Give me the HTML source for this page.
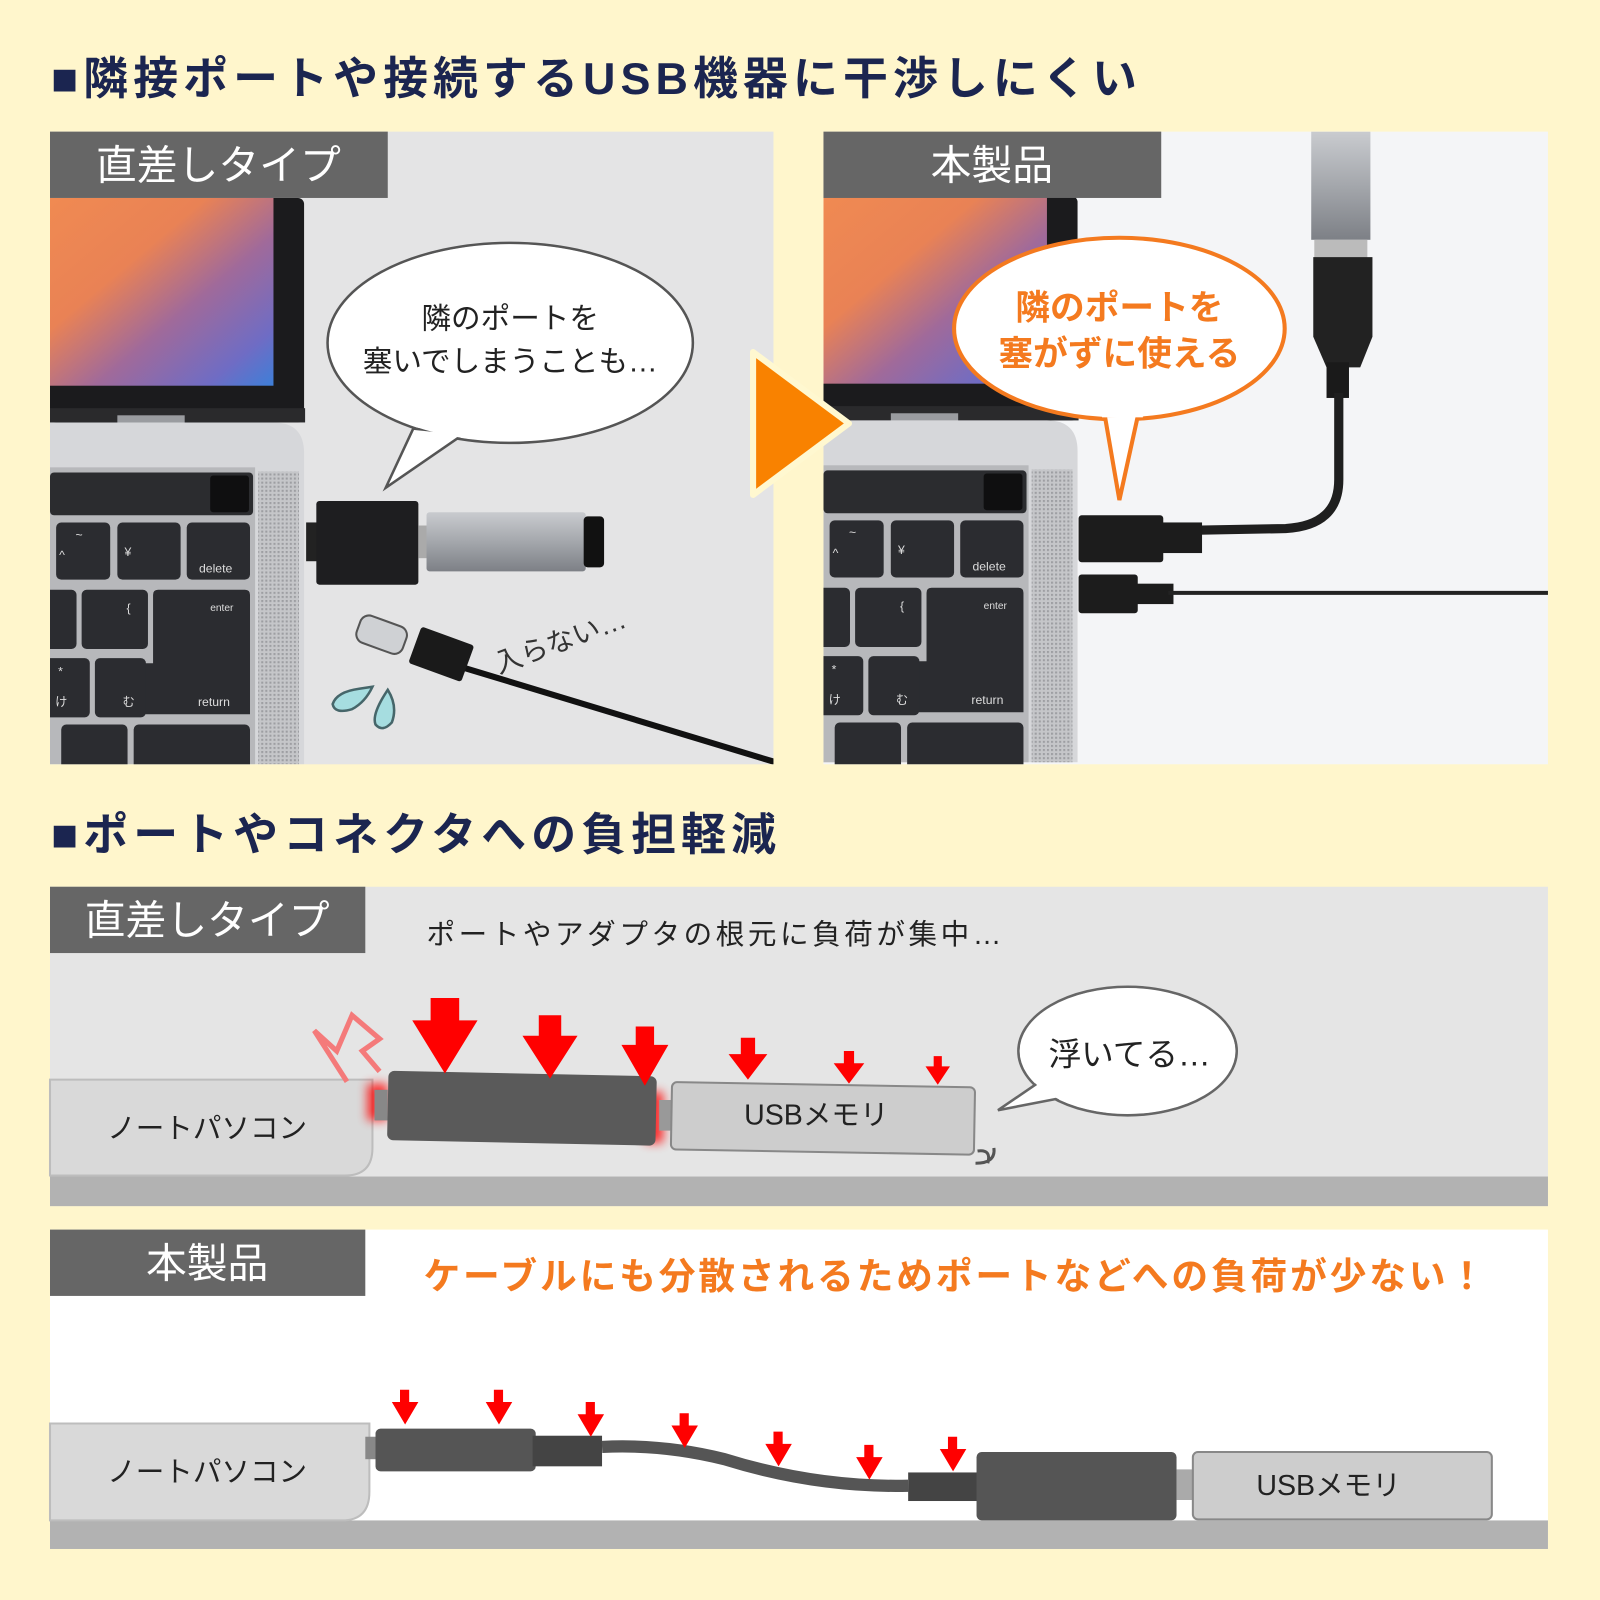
<!DOCTYPE html>
<html><head><meta charset="utf-8"><style>
html,body{margin:0;padding:0;background:#fff6cc;}
svg{display:block;}
text{font-family:"Liberation Sans","Noto Sans CJK JP",sans-serif;}
</style></head><body>
<svg width="1600" height="1600" viewBox="0 0 1568 1568" xmlns="http://www.w3.org/2000/svg">
<defs>
<linearGradient id="scr" x1="0" y1="0" x2="1" y2="1">
<stop offset="0" stop-color="#f08a52"/><stop offset="0.35" stop-color="#e98255"/><stop offset="0.6" stop-color="#a06a9a"/><stop offset="0.85" stop-color="#6f6cc4"/><stop offset="1" stop-color="#3e7fd8"/>
</linearGradient>
<pattern id="dots" width="4" height="4" patternUnits="userSpaceOnUse"><rect width="4" height="4" fill="#c5c6c9"/><rect width="2" height="2" fill="#9d9ea2"/></pattern>
<clipPath id="cl"><rect x="49" y="129" width="709" height="620"/></clipPath>
<clipPath id="cr"><rect x="807" y="129" width="710" height="620"/></clipPath>
<linearGradient id="stick" x1="0" y1="0" x2="0" y2="1"><stop offset="0" stop-color="#c9cbcf"/><stop offset="0.5" stop-color="#a4a7ac"/><stop offset="1" stop-color="#7d8086"/></linearGradient>
<filter id="glow" x="-1" y="-1" width="3" height="3"><feGaussianBlur stdDeviation="5"/></filter>
<g id="laptop">
<rect x="49" y="194" width="249" height="220" rx="6" fill="#1b1b1d"/>
<rect x="49" y="194" width="219" height="184" fill="url(#scr)"/>
<rect x="49" y="400" width="250" height="14" fill="#2a2a2c"/>
<rect x="115" y="407" width="66" height="15" fill="#9a9ca0"/>
<path d="M49 414 H268 Q298 414 298 444 V749 H49 Z" fill="#d6d7da"/>
<rect x="49" y="458" width="201" height="291" fill="#b7b8bb"/>
<rect x="253" y="462" width="40" height="287" fill="url(#dots)"/>
<rect x="49" y="463" width="199" height="42" rx="4" fill="#2b2c2f"/>
<rect x="206" y="466" width="38" height="36" rx="3" fill="#0f0f10"/>
<g fill="#2b2c30">
<rect x="55" y="512" width="53" height="56" rx="5"/><rect x="115" y="512" width="62" height="56" rx="5"/><rect x="183" y="512" width="62" height="56" rx="5"/>
<rect x="40" y="578" width="35" height="58" rx="5"/><rect x="80" y="578" width="65" height="58" rx="5"/>
<path d="M155 578 H240 Q245 578 245 583 V700 H128 V650 H150 V583 Q150 578 155 578Z"/>
<rect x="40" y="645" width="48" height="58" rx="5"/><rect x="93" y="645" width="50" height="58" rx="5"/>
<rect x="60" y="710" width="65" height="50" rx="5"/><rect x="131" y="710" width="114" height="50" rx="5"/>
</g>
<g fill="#ddd" font-size="12"><text x="195" y="561">delete</text><text x="206" y="599" font-size="10">enter</text><text x="194" y="692">return</text><text x="122" y="545">¥</text><text x="74" y="528">~</text><text x="58" y="548">^</text><text x="124" y="600">{</text><text x="57" y="662">*</text><text x="54" y="692">け</text><text x="120" y="692">む</text></g>
</g>
</defs>

<!-- titles -->
<text x="50" y="92" font-size="44" font-weight="bold" fill="#1b2550" letter-spacing="5">■隣接ポートや接続するUSB機器に干渉しにくい</text>
<text x="50" y="833" font-size="44" font-weight="bold" fill="#1b2550" letter-spacing="5">■ポートやコネクタへの負担軽減</text>

<!-- left photo -->
<rect x="49" y="129" width="709" height="620" fill="#e4e4e5"/>
<g clip-path="url(#cl)">
<use href="#laptop"/>
<rect x="300" y="512" width="12" height="38" fill="#222"/>
<rect x="310" y="491" width="100" height="82" rx="3" fill="#1e1e20"/>
<rect x="410" y="515" width="12" height="32" fill="#aaa"/>
<rect x="418" y="502" width="156" height="58" rx="3" fill="url(#stick)"/>
<rect x="572" y="506" width="20" height="50" rx="4" fill="#111"/>
<line x1="440" y1="650" x2="760" y2="747" stroke="#111" stroke-width="6"/>
<rect x="405" y="622" width="55" height="38" rx="3" fill="#1a1a1a" transform="rotate(20 432 641)"/>
<rect x="350" y="608" width="48" height="28" rx="9" fill="#cfd1d4" stroke="#555" stroke-width="2" transform="rotate(20 374 622)"/>
<path d="M352 675 Q330 678 326 690 Q328 700 345 695 Q358 688 365 673 Z" fill="#a6dde0" stroke="#46666a" stroke-width="2.5"/>
<path d="M380 676 Q364 700 368 710 Q375 718 384 708 Q390 692 380 676 Z" fill="#a6dde0" stroke="#46666a" stroke-width="2.5"/>
<text x="475" y="638" font-size="27" fill="#333" transform="rotate(-20 545 610)">入らない…</text>
<ellipse cx="500" cy="336" rx="179" ry="98" fill="#fff" stroke="#555" stroke-width="2.5"/>
<polygon points="405,420 378,478 455,425" fill="#fff" stroke="#555" stroke-width="2.5" stroke-linejoin="miter"/>
<ellipse cx="500" cy="336" rx="177.5" ry="96.5" fill="#fff"/>
<text x="500" y="322" font-size="29" fill="#222" text-anchor="middle">隣のポートを</text>
<text x="500" y="364" font-size="29" fill="#222" text-anchor="middle">塞いでしまうことも…</text>
</g>
<rect x="49" y="129" width="331" height="65" fill="#666"/>
<text x="214" y="176" font-size="40" fill="#fff" text-anchor="middle">直差しタイプ</text>

<!-- right photo -->
<rect x="807" y="129" width="710" height="620" fill="#f4f5f7"/>
<g clip-path="url(#cr)">
<use href="#laptop" transform="translate(758 -2)"/>
<rect x="1285" y="129" width="58" height="106" fill="url(#stick)"/>
<rect x="1288" y="235" width="52" height="18" fill="#bbb"/>
<path d="M1287 252 H1345 V330 L1333 360 H1300 L1287 330 Z" fill="#222"/>
<rect x="1300" y="355" width="22" height="35" fill="#1a1a1a"/>
<path d="M1312 385 V470 Q1312 515 1260 518 L1150 520" stroke="#1f1f1f" stroke-width="9" fill="none"/>
<rect x="1057" y="505" width="83" height="46" rx="3" fill="#1c1c1c"/>
<rect x="1138" y="512" width="40" height="30" fill="#1c1c1c"/>
<rect x="1057" y="563" width="58" height="38" rx="3" fill="#1c1c1c"/>
<rect x="1110" y="572" width="40" height="20" fill="#1c1c1c"/>
<line x1="1145" y1="581" x2="1520" y2="581" stroke="#222" stroke-width="4"/>
<ellipse cx="1097" cy="322" rx="162" ry="89" fill="#fff" stroke="#f47a1f" stroke-width="4"/>
<path d="M1083 409 L1097 490 L1115 408" fill="#fff" stroke="#f47a1f" stroke-width="4"/>
<rect x="1080" y="395" width="40" height="14" fill="#fff"/>
<text x="1097" y="313" font-size="34" font-weight="bold" fill="#f47a1f" text-anchor="middle">隣のポートを</text>
<text x="1097" y="358" font-size="34" font-weight="bold" fill="#f47a1f" text-anchor="middle">塞がずに使える</text>
</g>
<rect x="807" y="129" width="331" height="65" fill="#666"/>
<text x="972" y="176" font-size="40" fill="#fff" text-anchor="middle">本製品</text>

<!-- orange arrow -->
<path d="M738 345 L832 415 L738 485 Z" fill="#f98200" stroke="#fff8d0" stroke-width="6" stroke-linejoin="round"/>

<!-- panel 3 -->
<rect x="49" y="869" width="1468" height="313" fill="#e5e5e5"/>
<rect x="49" y="1153" width="1468" height="29" fill="#b2b2b2"/>
<rect x="49" y="869" width="309" height="65" fill="#666"/>
<text x="203" y="916" font-size="40" fill="#fff" text-anchor="middle">直差しタイプ</text>
<text x="418" y="925" font-size="28" fill="#222" letter-spacing="3.5">ポートやアダプタの根元に負荷が集中…</text>
<path d="M49 1058 H365 V1125 Q365 1152 338 1152 H49 Z" fill="#d9d9d9" stroke="#bdbdbd" stroke-width="2"/>
<text x="203" y="1115" font-size="28" fill="#222" text-anchor="middle">ノートパソコン</text>
<path d="M340 1060 L308 1010 L330 1030 L345 995 L372 1018 L355 1030 L372 1050" fill="none" stroke="#f47a7a" stroke-width="5"/>
<rect x="360" y="1062" width="20" height="36" fill="#f00" filter="url(#glow)" opacity="0.8"/>
<rect x="632" y="1070" width="18" height="50" fill="#f00" filter="url(#glow)" opacity="0.8"/>
<rect x="367" y="1068" width="13" height="30" fill="#888"/>
<rect x="380" y="1052" width="263" height="68" rx="6" fill="#5a5a5a" transform="rotate(1.2 510 1086)"/>
<rect x="646" y="1078" width="12" height="30" fill="#999"/>
<rect x="658" y="1063" width="297" height="66" rx="5" fill="#cdcdcd" stroke="#888" stroke-width="2" transform="rotate(1 806 1096)"/>
<text x="800" y="1102" font-size="28" fill="#222" text-anchor="middle">USBメモリ</text>
<path d="M958 1128 Q972 1126 968 1140 M956 1140 Q976 1140 974 1125" stroke="#555" stroke-width="3" fill="none"/>
<g fill="#ff0000">
<path d="M422 978 h28 v22 h18 l-32 52 l-32 -52 h18z"/>
<path d="M528 995 h22 v20 h16 l-27 42 l-27 -42 h16z"/>
<path d="M623 1006 h18 v18 h14 l-23 40 l-23 -40 h14z"/>
<path d="M726 1017 h14 v16 h12 l-19 25 l-19 -25 h12z"/>
<path d="M827 1030 h10 v12 h10 l-15 20 l-15 -20 h10z"/>
<path d="M915 1035 h8 v10 h8 l-12 18 l-12 -18 h8z"/>
</g>
<ellipse cx="1105" cy="1030" rx="107" ry="63" fill="#fff" stroke="#666" stroke-width="2.5"/>
<polygon points="1022,1058 978,1088 1040,1076" fill="#fff" stroke="#666" stroke-width="2.5"/>
<ellipse cx="1105" cy="1030" rx="105.5" ry="61.5" fill="#fff"/>
<text x="1107" y="1044" font-size="32" fill="#222" text-anchor="middle">浮いてる…</text>

<!-- panel 4 -->
<rect x="49" y="1205" width="1468" height="313" fill="#fff"/>
<rect x="49" y="1490" width="1468" height="28" fill="#b2b2b2"/>
<rect x="49" y="1205" width="309" height="65" fill="#666"/>
<text x="203" y="1252" font-size="40" fill="#fff" text-anchor="middle">本製品</text>
<text x="415" y="1263" font-size="36" font-weight="bold" fill="#f47a1f" letter-spacing="2.8">ケーブルにも分散されるためポートなどへの負荷が少ない！</text>
<path d="M49 1395 H362 V1462 Q362 1490 335 1490 H49 Z" fill="#d9d9d9" stroke="#bdbdbd" stroke-width="2"/>
<text x="203" y="1452" font-size="28" fill="#222" text-anchor="middle">ノートパソコン</text>
<rect x="358" y="1408" width="12" height="22" fill="#888"/>
<rect x="368" y="1400" width="157" height="42" rx="5" fill="#555"/>
<rect x="522" y="1407" width="68" height="30" fill="#444"/>
<path d="M590 1418 Q650 1415 710 1430 Q800 1458 890 1456" stroke="#555" stroke-width="12" fill="none"/>
<rect x="890" y="1443" width="70" height="28" fill="#444"/>
<rect x="957" y="1423" width="196" height="67" rx="5" fill="#555"/>
<rect x="1153" y="1440" width="16" height="30" fill="#aaa"/>
<rect x="1169" y="1423" width="293" height="66" rx="5" fill="#cdcdcd" stroke="#888" stroke-width="2"/>
<text x="1302" y="1465" font-size="28" fill="#222" text-anchor="middle">USBメモリ</text>
<g fill="#ff0000">
<path d="M392 1362 h9 v12 h9 l-13 22 l-13 -22 h8z"/>
<path d="M484 1362 h9 v12 h9 l-13 22 l-13 -22 h8z"/>
<path d="M574 1374 h9 v12 h9 l-13 22 l-13 -22 h8z"/>
<path d="M666 1385 h9 v12 h9 l-13 22 l-13 -22 h8z"/>
<path d="M758 1403 h9 v12 h9 l-13 22 l-13 -22 h8z"/>
<path d="M847 1416 h9 v12 h9 l-13 22 l-13 -22 h8z"/>
<path d="M929 1408 h9 v12 h9 l-13 22 l-13 -22 h8z"/>
</g>
</svg>
</body></html>
